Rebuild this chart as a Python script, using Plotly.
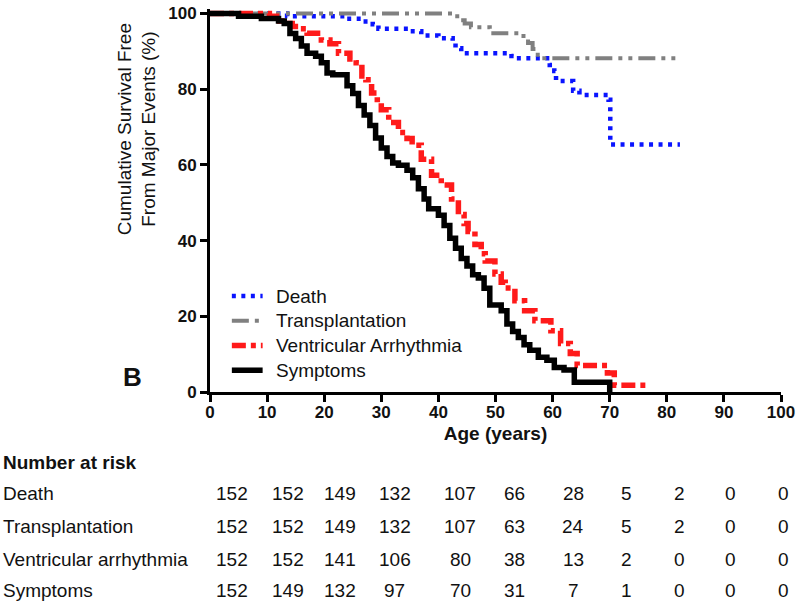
import plotly.graph_objects as go

# Kaplan-Meier-Stufen: Alter (Jahre) und ereignisfreies Überleben (%)
death_age = [0, 13.5, 24, 26.5, 28.5, 29.5, 35, 37, 40, 42.5, 43, 44, 52.8, 53.5,
             59.5, 60.3, 60.6, 63.6, 64.7, 69.8, 70.1, 82.3]
death_pct = [100, 99.3, 98.6, 97.9, 97.2, 96.0, 95.3, 94.2, 93.5, 92.7, 90.8, 89.5,
             88.8, 88.2, 86.4, 84.8, 82.2, 79.6, 78.5, 77.2, 65.4, 65.4]

tx_age = [0, 43.3, 44.6, 45.7, 49.0, 54.9, 55.7, 56.5, 57.4, 82.3]
tx_pct = [100, 98.2, 97.4, 96.4, 94.8, 93.4, 92.2, 90.6, 88.2, 88.2]

va_age = [0, 10.4, 12.2, 13.4, 14.4, 15.5, 17, 19.5, 21, 22.5, 24.5, 25.6, 26.6,
          27.3, 28.3, 29.3, 30, 31.3, 33, 34.5, 35.4, 37, 38.8, 40.5, 42.3, 43.5,
          44.5, 45.2, 46.4, 47.5, 48.2, 49.9, 51, 51.7, 53.4, 55.1, 56.9, 59.7,
          61.4, 63.1, 64.3, 69.6, 70.8, 76.5]
va_pct = [100, 99.3, 98.0, 97.4, 96.6, 96.0, 94.8, 93.0, 92.0, 89.5, 88.0, 87.0, 83.5,
          82.5, 79.0, 76.5, 74.6, 71.2, 68.6, 67.0, 65.2, 61.5, 57.3, 54.7, 51.0, 46.9,
          44.5, 42.4, 39.0, 36.5, 34.6, 31.2, 29.0, 27.5, 24.1, 21.5, 18.8, 16.2,
          12.8, 10.2, 7.0, 5.0, 1.8, 1.8]

sym_age = [0, 5, 9, 12, 13, 14, 15, 16, 17, 18.5, 19.5, 20.5, 21.5, 24, 25, 26, 27,
           28, 29, 30, 31, 32, 33, 34.5, 35.5, 36.5, 37.5, 38.3, 40, 41, 42, 43, 44,
           45, 46, 47, 48, 49, 51, 52, 53, 54, 55, 56, 57.5, 59, 60.3, 62, 63.8, 70]
sym_pct = [100, 99.3, 98.7, 98.0, 97.4, 94.7, 93.4, 91.4, 89.5, 88.7, 87.0, 84.3, 83.8,
           80.9, 78.9, 75.7, 73.2, 70.4, 67.1, 64.5, 62.2, 60.5, 59.9, 58.6, 56.6, 53.7,
           51.0, 48.4, 46.7, 44.0, 40.6, 38.0, 35.3, 33.3, 31.0, 30.1, 27.4, 23.0, 21.5,
           18.0, 16.0, 14.4, 12.5, 11.0, 9.2, 8.4, 6.5, 5.8, 2.6, 0]

# Number at risk
risk_labels = ["Death", "Transplantation", "Ventricular arrhythmia", "Symptoms"]
risk_death = [152, 152, 149, 132, 107, 66, 28, 5, 2, 0, 0]
risk_tx = [152, 152, 149, 132, 107, 63, 24, 5, 2, 0, 0]
risk_va = [152, 152, 141, 106, 80, 38, 13, 2, 0, 0, 0]
risk_sym = [152, 149, 132, 97, 70, 31, 7, 1, 0, 0, 0]

x_ticks = list(range(0, 101, 10))
y_ticks = list(range(0, 101, 20))

FONT = "Arial, 'Liberation Sans', sans-serif"
W, H = 800, 605
ML, MR, MT, MB = 210, 15, 5, 213
PW, PH = W - ML - MR, H - MT - MB


def px_x(px):
    return (px - ML) / PW


def px_y(py):
    return (H - MB - py) / PH


fig = go.Figure()

series = [
    ("Death", death_age, death_pct, "#0a14ff", 4.5, "4px,5.5px"),
    ("Transplantation", tx_age, tx_pct, "#808080", 4, "17px,6px,4px,6px,4px,6px"),
    ("Ventricular Arrhythmia", va_age, va_pct, "#ff1a1a", 5.5, "14px,5px,5px,5px"),
    ("Symptoms", sym_age, sym_pct, "#000000", 5.5, "solid"),
]
legend_py = [295, 320, 345, 370]
for (name, xs, ys, col, w, dash), ly in zip(series, legend_py):
    fig.add_trace(go.Scatter(
        x=xs, y=ys, mode="lines", name=name, line_shape="hv",
        line=dict(color=col, width=w, dash=dash), showlegend=False,
    ))
    # Legende von Hand, damit Abstände wie im Original
    fig.add_shape(type="line", xref="paper", yref="paper",
                  x0=px_x(232), x1=px_x(263), y0=px_y(ly), y1=px_y(ly),
                  line=dict(color=col, width=w, dash=dash))
    fig.add_annotation(text=name, xref="paper", yref="paper", x=px_x(274), y=px_y(ly),
                       xanchor="left", yanchor="middle", showarrow=False,
                       font=dict(size=19, color="#111"))

# Tabelle "Number at risk"
fig.add_annotation(text="<b>Number at risk</b>", xref="paper", yref="paper",
                   x=px_x(0), y=px_y(463), xanchor="left", yanchor="middle",
                   showarrow=False, font=dict(size=19, color="#111"))
col_px = [232, 289, 341, 396, 462, 517, 576, 629, 683, 734, 788]
row_py = [495, 528, 561, 593]
for label, counts, py in zip(risk_labels, [risk_death, risk_tx, risk_va, risk_sym], row_py):
    fig.add_annotation(text=label, xref="paper", yref="paper", x=px_x(0), y=px_y(py),
                       xanchor="left", yanchor="middle", showarrow=False,
                       font=dict(size=19, color="#111"))
    for n, cx in zip(counts, col_px):
        fig.add_annotation(text=str(n), xref="paper", yref="paper", x=px_x(cx), y=px_y(py),
                           xanchor="center", yanchor="middle", showarrow=False,
                           font=dict(size=19, color="#111"))

# y-Achsentitel und Panel-Buchstabe
fig.add_annotation(text="Cumulative Survival Free<br>From Major Events (%)",
                   xref="paper", yref="paper", x=px_x(136), y=px_y(127),
                   textangle=-90, showarrow=False, xanchor="center", yanchor="middle",
                   font=dict(size=19, color="#111"))
fig.add_annotation(text="<b>B</b>", xref="paper", yref="paper", x=px_x(132), y=px_y(377),
                   showarrow=False, xanchor="center", yanchor="middle",
                   font=dict(size=26, color="#111"))

fig.update_xaxes(
    range=[0, 100], tickvals=x_ticks, showline=True, linecolor="black", linewidth=3,
    ticks="outside", ticklen=7, tickwidth=3, tickcolor="black", showgrid=False,
    zeroline=False, ticklabelstandoff=-4,
    tickfont=dict(size=17, color="#111", family=FONT, weight="bold"),
    title=dict(text="<b>Age (years)</b>", font=dict(size=19, color="#111"), standoff=6),
)
fig.update_yaxes(
    range=[0, 101.2], tickvals=y_ticks, showline=True, linecolor="black", linewidth=3,
    ticks="outside", ticklen=7, tickwidth=3, tickcolor="black", showgrid=False,
    zeroline=False, tickfont=dict(size=17, color="#111", family=FONT, weight="bold"),
)

fig.update_layout(
    width=W, height=H,
    margin=dict(l=ML, r=MR, t=MT, b=MB),
    plot_bgcolor="white", paper_bgcolor="white",
    font=dict(family=FONT, color="#111"),
    showlegend=False,
)

fig.write_html("out.html", config={"displayModeBar": False},
               post_script="document.body.style.margin='0';")
